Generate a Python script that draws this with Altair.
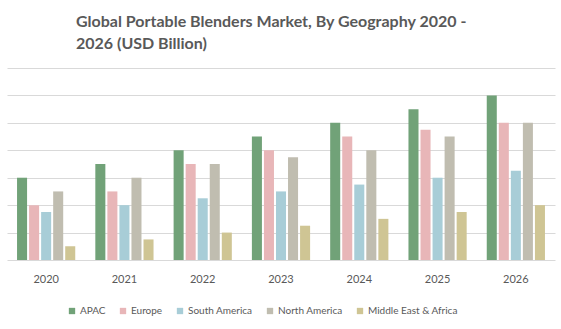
import altair as alt
import pandas as pd

years = ["2020", "2021", "2022", "2023", "2024", "2025", "2026"]
regions = ["APAC", "Europe", "South America", "North America", "Middle East & Africa"]
colors = ["#71A278", "#E8B6B8", "#A8CDD7", "#C0BDB0", "#CFC594"]

apac = [3.0, 3.5, 4.0, 4.5, 5.0, 5.5, 6.0]
europe = [2.0, 2.5, 3.5, 4.0, 4.5, 4.75, 5.0]
south_america = [1.75, 2.0, 2.25, 2.5, 2.75, 3.0, 3.25]
north_america = [2.5, 3.0, 3.5, 3.75, 4.0, 4.5, 5.0]
mea = [0.5, 0.75, 1.0, 1.25, 1.5, 1.75, 2.0]

series = [apac, europe, south_america, north_america, mea]
rows = []
for r, vals in zip(regions, series):
    for y, v in zip(years, vals):
        rows.append({"Year": y, "Region": r, "Value": v})
df = pd.DataFrame(rows)

FONT = "Lato"
GREY = "#595959"

chart = alt.Chart(df).mark_bar().encode(
    x=alt.X("Year:N", sort=years, title=None,
            scale=alt.Scale(paddingInner=0, paddingOuter=0),
            axis=alt.Axis(labelAngle=0, ticks=False, domain=False, labelPadding=13,
                          labelFont=FONT, labelFontSize=11, labelColor=GREY)),
    xOffset=alt.XOffset("Region:N", sort=regions,
                        scale=alt.Scale(paddingInner=0.1667, paddingOuter=0.8333)),
    y=alt.Y("Value:Q", title=None,
            scale=alt.Scale(domain=[0, 7], nice=False),
            axis=alt.Axis(values=[0, 1, 2, 3, 4, 5, 6, 7], labels=False, ticks=False,
                          domain=False, grid=True, gridColor="#D9D9D9", gridWidth=1)),
    color=alt.Color("Region:N", sort=regions,
                    scale=alt.Scale(domain=regions, range=colors),
                    legend=alt.Legend(title=None, orient="none", direction="horizontal",
                                      legendX=60, legendY=238,
                                      symbolType="square", symbolSize=40,
                                      symbolStrokeWidth=0,
                                      columnPadding=12, labelOffset=3,
                                      labelFont=FONT, labelFontSize=10, labelColor=GREY)),
).properties(
    width=548,
    height=192,
    title=alt.TitleParams(
        text=["Global Portable Blenders Market, By Geography 2020 -", "2026 (USD Billion)"],
        anchor="start", frame="group", dx=69, offset=16,
        font=FONT, fontSize=16, fontWeight="bold", color=GREY, lineHeight=22,
    ),
    autosize=alt.AutoSizeParams(type="none"),
    padding={"left": 7, "top": 68, "right": 6, "bottom": 69},
).configure_view(stroke=None)

chart.save("out.html", embed_options={"renderer": "svg", "actions": False})
